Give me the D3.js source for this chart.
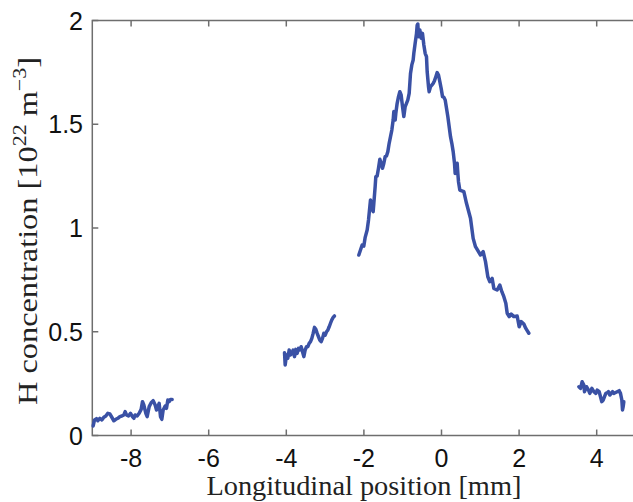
<!DOCTYPE html>
<html>
<head>
<meta charset="utf-8">
<script src="https://cdnjs.cloudflare.com/ajax/libs/d3/7.8.5/d3.min.js"></script>
<style>
  body { margin: 0; background: #fff; }
  svg { display: block; }
  .tick-label { font-family: "Liberation Sans", Arial, sans-serif; font-size: 25px; fill: #111; }
  .axis-label { font-family: "Liberation Serif", "DejaVu Serif", serif; font-size: 28px; fill: #222; }
</style>
</head>
<body>
<svg id="chart" width="633" height="502"></svg>
<script>
// measured H concentration profile, four separate scan windows [mm, 1e22 m^-3]
var segment1 = [
  [-8.978,0.046],[-8.943,0.075],[-8.892,0.081],[-8.857,0.071],[-8.806,0.083],[-8.754,0.075],
  [-8.703,0.088],[-8.651,0.094],[-8.600,0.107],[-8.548,0.104],[-8.497,0.088],[-8.445,0.071],
  [-8.394,0.078],[-8.342,0.083],[-8.290,0.091],[-8.239,0.094],[-8.187,0.099],[-8.153,0.115],
  [-8.119,0.099],[-8.067,0.094],[-8.015,0.107],[-7.964,0.091],[-7.930,0.083],[-7.895,0.099],
  [-7.844,0.094],[-7.792,0.107],[-7.741,0.126],[-7.706,0.163],[-7.672,0.147],[-7.620,0.107],
  [-7.586,0.091],[-7.534,0.139],[-7.483,0.158],[-7.431,0.168],[-7.380,0.147],[-7.345,0.123],
  [-7.311,0.139],[-7.277,0.155],[-7.242,0.091],[-7.208,0.078],[-7.174,0.123],[-7.122,0.142],
  [-7.088,0.131],[-7.053,0.171],[-7.019,0.163],[-6.985,0.174],[-6.942,0.174]
];
var segment2 = [
  [-4.046,0.399],[-4.029,0.340],[-3.995,0.388],[-3.961,0.372],[-3.926,0.412],[-3.892,0.388],
  [-3.857,0.396],[-3.823,0.412],[-3.789,0.380],[-3.754,0.415],[-3.720,0.396],[-3.686,0.420],
  [-3.651,0.412],[-3.617,0.428],[-3.582,0.404],[-3.548,0.380],[-3.514,0.412],[-3.479,0.428],
  [-3.445,0.428],[-3.411,0.444],[-3.376,0.452],[-3.342,0.468],[-3.308,0.492],[-3.273,0.521],
  [-3.239,0.512],[-3.204,0.492],[-3.170,0.476],[-3.136,0.460],[-3.101,0.452],[-3.067,0.468],
  [-3.033,0.492],[-2.998,0.484],[-2.964,0.500],[-2.930,0.508],[-2.895,0.524],[-2.861,0.541],
  [-2.827,0.557],[-2.792,0.569],[-2.758,0.576]
];
var segment3 = [
  [-2.131,0.870],[-2.088,0.894],[-2.045,0.918],[-2.002,0.913],[-1.967,0.955],[-1.916,0.990],
  [-1.881,1.039],[-1.847,1.103],[-1.830,1.135],[-1.796,1.095],[-1.761,1.079],[-1.744,1.119],
  [-1.710,1.199],[-1.693,1.247],[-1.658,1.251],[-1.624,1.288],[-1.589,1.331],[-1.555,1.312],
  [-1.521,1.288],[-1.486,1.312],[-1.452,1.344],[-1.418,1.347],[-1.383,1.368],[-1.349,1.408],
  [-1.314,1.440],[-1.280,1.472],[-1.246,1.520],[-1.229,1.561],[-1.194,1.520],[-1.177,1.553],
  [-1.143,1.601],[-1.108,1.633],[-1.074,1.657],[-1.040,1.641],[-1.005,1.585],[-0.971,1.537],
  [-0.936,1.585],[-0.902,1.601],[-0.868,1.617],[-0.833,1.649],[-0.799,1.745],[-0.765,1.786],
  [-0.730,1.810],[-0.713,1.842],[-0.679,1.890],[-0.644,1.938],[-0.627,1.978],[-0.610,1.983],
  [-0.593,1.922],[-0.558,1.954],[-0.524,1.914],[-0.490,1.938],[-0.455,1.882],[-0.421,1.842],
  [-0.387,1.826],[-0.369,1.753],[-0.335,1.681],[-0.318,1.657],[-0.284,1.681],[-0.249,1.689],
  [-0.215,1.697],[-0.180,1.710],[-0.146,1.729],[-0.112,1.749],[-0.077,1.737],[-0.043,1.705],
  [-0.009,1.673],[0.026,1.633],[0.060,1.630],[0.095,1.617],[0.129,1.577],[0.163,1.537],
  [0.198,1.488],[0.232,1.440],[0.266,1.408],[0.301,1.368],[0.335,1.312],[0.352,1.263],
  [0.369,1.280],[0.404,1.312],[0.421,1.263],[0.438,1.223],[0.472,1.183],[0.576,1.175],
  [0.644,1.119],[0.747,1.047],[0.816,0.950],[0.876,0.910],[1.005,0.870],[1.074,0.886],
  [1.134,0.838],[1.194,0.765],[1.246,0.741],[1.306,0.757],[1.349,0.709],[1.435,0.701],
  [1.503,0.725],[1.555,0.693],[1.607,0.669],[1.658,0.637],[1.693,0.589],[1.745,0.573],
  [1.796,0.585],[1.864,0.573],[1.950,0.576],[2.002,0.524],[2.053,0.549],[2.122,0.537],
  [2.173,0.516],[2.251,0.493]
];
var segment4 = [
  [3.540,0.235],[3.582,0.227],[3.625,0.259],[3.668,0.243],[3.686,0.211],[3.737,0.235],
  [3.789,0.219],[3.823,0.203],[3.875,0.227],[3.926,0.211],[3.978,0.203],[4.012,0.219],
  [4.064,0.211],[4.098,0.187],[4.132,0.163],[4.167,0.171],[4.201,0.187],[4.235,0.203],
  [4.270,0.206],[4.304,0.211],[4.338,0.195],[4.373,0.203],[4.407,0.211],[4.442,0.203],
  [4.476,0.206],[4.528,0.211],[4.579,0.216],[4.613,0.203],[4.648,0.171],[4.665,0.123],
  [4.682,0.139],[4.699,0.163]
];
var segments = [segment1, segment2, segment3, segment4];

var xTicks = [-8, -6, -4, -2, 0, 2, 4];
var yTicks = [0, 0.5, 1, 1.5, 2];
var yTickLabels = ["0", "0.5", "1", "1.5", "2"];

var X0 = 92.3, X1 = 635.5, Y0 = 435.5, Y1 = 20.5;
var TICK = 6;
var AXIS_COLOR = "#6e6e6e";
var LINE_COLOR = "#3a51a5";

var svg = d3.select("#chart");

var x = d3.scaleLinear().domain([-9, 5]).range([X0, X1]);
var y = d3.scaleLinear().domain([0, 2]).range([Y0, Y1]);

// box
svg.append("rect")
  .attr("x", X0).attr("y", Y1)
  .attr("width", X1 - X0).attr("height", Y0 - Y1)
  .attr("fill", "none")
  .attr("stroke", AXIS_COLOR)
  .attr("stroke-width", 1.5)

// inward ticks, bottom + top
svg.selectAll(".xt-b").data(xTicks).enter().append("line")
  .attr("x1", d => x(d)).attr("x2", d => x(d))
  .attr("y1", Y0).attr("y2", Y0 - TICK)
  .attr("stroke", AXIS_COLOR).attr("stroke-width", 1.5)
svg.selectAll(".xt-t").data(xTicks).enter().append("line")
  .attr("x1", d => x(d)).attr("x2", d => x(d))
  .attr("y1", Y1).attr("y2", Y1 + TICK)
  .attr("stroke", AXIS_COLOR).attr("stroke-width", 1.5)
svg.selectAll(".yt-l").data(yTicks).enter().append("line")
  .attr("x1", X0).attr("x2", X0 + TICK)
  .attr("y1", d => y(d)).attr("y2", d => y(d))
  .attr("stroke", AXIS_COLOR).attr("stroke-width", 1.5)

// tick labels
svg.selectAll(".xl").data(xTicks).enter().append("text")
  .attr("class", "tick-label")
  .attr("x", d => x(d))
  .attr("y", 467)
  .attr("text-anchor", "middle")
  .text(d => d)
svg.selectAll(".yl").data(yTicks).enter().append("text")
  .attr("class", "tick-label")
  .attr("x", 83)
  .attr("y", d => y(d))
  .attr("dy", "0.36em")
  .attr("text-anchor", "end")
  .text((d, i) => yTickLabels[i])

// data
var line = d3.line().x(d => x(d[0])).y(d => y(d[1]));
svg.selectAll(".seg").data(segments).enter().append("path")
  .attr("d", line)
  .attr("fill", "none")
  .attr("stroke", LINE_COLOR)
  .attr("stroke-width", 3.5)
  .attr("stroke-linejoin", "round")
  .attr("stroke-linecap", "round")

// axis titles (stretched a bit to the wider TeX font of the original)
svg.append("text")
  .attr("class", "axis-label")
  .attr("x", (X0 + X1) / 2)
  .attr("y", 495)
  .attr("font-size", "23px")
  .attr("textLength", 315)
  .attr("lengthAdjust", "spacingAndGlyphs")
  .attr("text-anchor", "middle")
  .text("Longitudinal position [mm]")

var yl = svg.append("text")
  .attr("class", "axis-label")
  .attr("text-anchor", "middle")
  .attr("textLength", 348)
  .attr("lengthAdjust", "spacingAndGlyphs")
  .attr("transform", "translate(37,231) rotate(-90)")
yl.append("tspan").text("H concentration [10")
yl.append("tspan").attr("dy", -11).attr("font-size", "19px").text("22")
yl.append("tspan").attr("dy", 11).text(" m")
yl.append("tspan").attr("dy", -11).attr("font-size", "19px").text("\u22123")
yl.append("tspan").attr("dy", 11).text("]")
</script>
</body>
</html>
